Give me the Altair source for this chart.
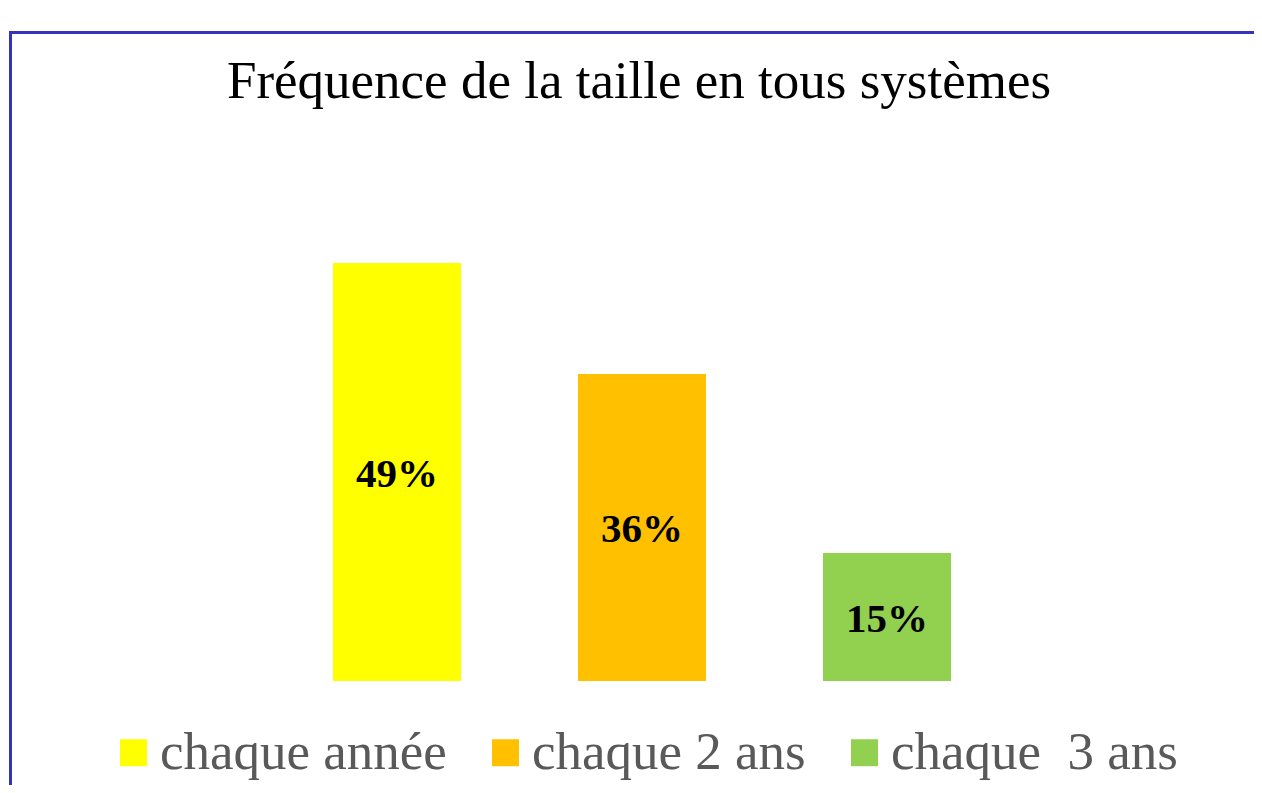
import altair as alt
import pandas as pd

categories = ["chaque année", "chaque 2 ans", "chaque\u00a0 3 ans"]
values = [49, 36, 15]
labels = ["49%", "36%", "15%"]
colors = ["#FFFF00", "#FFC000", "#92D050"]

df = pd.DataFrame({"cat": categories, "val": values, "lab": labels})

W, H = 1246, 777
SERIF = "Liberation Serif"

x_scale = alt.Scale(range=[266.5, 1001.5], paddingInner=0.4776, paddingOuter=0.2388)
y_scale = alt.Scale(domain=[0, 49], range=[673, 255], nice=False, zero=True)

base = alt.Chart(df)

bars = base.mark_bar(size=128).encode(
    x=alt.X("cat:N", sort=categories, axis=None, scale=x_scale),
    y=alt.Y("val:Q", axis=None, scale=y_scale),
    color=alt.Color(
        "cat:N", sort=categories,
        scale=alt.Scale(domain=categories, range=colors),
        legend=alt.Legend(
            title=None, orient="none", direction="horizontal", columns=3,
            legendX=99, legendY=718, padding=0, columnPadding=32,
            labelOffset=0, symbolType="square", symbolSize=729,
            symbolStrokeWidth=0, labelLimit=600,
            labelFont=SERIF, labelFontSize=53, labelColor="#595959",
        ),
    ),
)

texts = base.transform_calculate(mid="datum.val / 2").mark_text(
    font=SERIF, fontSize=41, fontWeight="bold", color="black", baseline="middle", dy=3
).encode(
    x=alt.X("cat:N", sort=categories, axis=None, scale=x_scale, bandPosition=0.5),
    y=alt.Y("mid:Q", axis=None, scale=y_scale),
    text="lab:N",
)

frame_top = alt.Chart(pd.DataFrame({"a": [0]})).mark_rule(color="#3333BB", strokeWidth=3).encode(
    x=alt.value(1), x2=alt.value(W), y=alt.value(24.5)
)
frame_left = alt.Chart(pd.DataFrame({"a": [0]})).mark_rule(color="#3333BB", strokeWidth=3).encode(
    x=alt.value(2.5), y=alt.value(23), y2=alt.value(H)
)

chart = alt.layer(frame_top, frame_left, bars, texts).properties(
    width=W, height=H,
    autosize=alt.AutoSizeParams(type="none"),
    padding=0,
    title=alt.TitleParams(
        "Fréquence de la taille en tous systèmes",
        font=SERIF, fontSize=53, fontWeight="normal", color="black",
        anchor="middle", frame="group", offset=0, dx=8, dy=143,
        baseline="alphabetic",
    ),
).configure_view(stroke=None)

chart.save("out.html", embed_options={"renderer": "svg", "actions": False})
